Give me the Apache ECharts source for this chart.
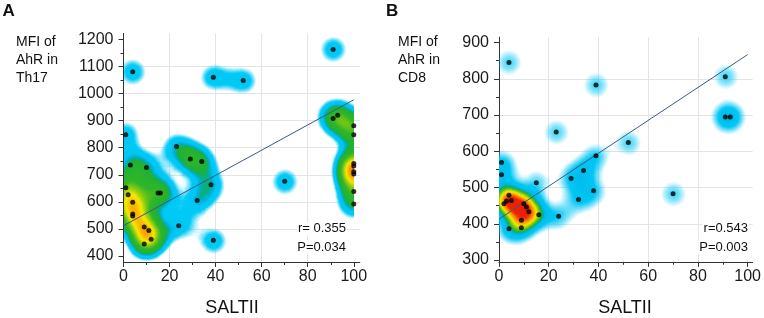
<!DOCTYPE html>
<html>
<head>
<meta charset="utf-8">
<script src="https://cdn.jsdelivr.net/npm/echarts@6/dist/echarts.min.js"></script>
<style>
  html, body { margin: 0; padding: 0; background: #fff; }
  #chart { width: 764px; height: 318px; }
</style>
</head>
<body>
<div id="chart"></div>
<script>
// panel A : MFI of AhR in Th17 vs SALTII
const saltA = [1, 4, 39, 52, 91, 91, 93, 100, 100, 100, 100, 100, 100, 100, 100, 23, 29, 34,
  3, 10, 1, 2, 4, 4, 4, 15, 16, 38, 70, 32, 24, 9, 11, 12, 9, 39];
const mfiA = [848, 1080, 1060, 1048, 1163, 908, 920, 848, 881, 742, 732, 711, 703, 638, 592, 804, 758, 749,
  736, 727, 652, 626, 599, 555, 548, 633, 633, 663, 676, 605, 512, 507, 494, 462, 444, 458];
const fitA = [[0, 512], [100, 977]];
const statsA = ['r= 0.355', 'P=0.034'];
const yTicksA = [400, 500, 600, 700, 800, 900, 1000, 1100, 1200];
const yRangeA = [378, 1222];

// panel B : MFI of AhR in CD8 vs SALTII
const saltB = [4, 39, 91, 91, 93, 23, 52, 39, 1, 1, 34, 29, 15, 38, 70, 32,
  4, 3, 5, 2, 10, 11, 12, 16, 24, 9, 9, 4];
const mfiB = [845, 783, 806, 695, 695, 653, 624, 588, 569, 535, 547, 525, 513, 491, 483, 467,
  479, 463, 464, 455, 455, 446, 433, 425, 421, 410, 389, 386];
const fitB = [[0, 413], [100, 867]];
const statsB = ['r=0.543', 'P=0.003'];
const yTicksB = [300, 400, 500, 600, 700, 800, 900];
const yRangeB = [295, 915];

const xTicks = [0, 20, 40, 60, 80, 100];
const xRangeA = [0, 102.6];
const xRangeB = [0, 102];

const FONT = '"Liberation Sans", Arial, sans-serif';

// density colour ramps (position = accumulated heat alpha)
const stopsA = [
  [0.00, [0, 205, 248]], [0.30, [0, 200, 244]], [0.33, [0, 178, 228]], [0.355, [0, 176, 150]],
  [0.38, [30, 176, 55]], [0.50, [50, 182, 40]], [0.58, [150, 207, 15]], [0.635, [248, 235, 0]],
  [0.70, [250, 150, 0]], [0.75, [238, 35, 0]], [1.00, [220, 0, 0]]
];
const stopsB = [
  [0.00, [0, 205, 248]], [0.30, [0, 195, 242]], [0.345, [0, 182, 232]], [0.37, [0, 178, 160]],
  [0.395, [30, 176, 55]], [0.445, [120, 200, 20]], [0.495, [248, 235, 0]], [0.55, [250, 150, 0]],
  [0.60, [238, 35, 0]], [1.00, [220, 0, 0]]
];
function rampColors(stops, n) {
  const out = [];
  for (let i = 0; i < n; i++) {
    const t = i / (n - 1);
    let j = 0;
    while (j < stops.length - 2 && t > stops[j + 1][0]) j++;
    const a = stops[j], b = stops[j + 1];
    const f = Math.min(1, Math.max(0, (t - a[0]) / (b[0] - a[0])));
    out.push('rgb(' + a[1].map((v, k) => Math.round(v + (b[1][k] - v) * f)).join(',') + ')');
  }
  return out;
}

// plain rectangles used as "maps" so the heat layer can sit on the plot area
function boxMap(yr) {
  return {
    type: 'FeatureCollection',
    features: [{
      type: 'Feature', properties: { name: 'box' },
      geometry: { type: 'Polygon', coordinates: [[[0, yr[0]], [100, yr[0]], [100, yr[1]], [0, yr[1]], [0, yr[0]]]] }
    }]
  };
}
echarts.registerMap('boxA', boxMap(yRangeA));
echarts.registerMap('boxB', boxMap(yRangeB));

const chart = echarts.init(document.getElementById('chart'), null, { renderer: 'canvas' });

const tickLabel = { fontSize: 16, fontFamily: FONT, color: '#1a1a1a', formatter: v => String(v) };

function xAxisOf(gi, range) {
  return {
    type: 'value', gridIndex: gi, min: range[0], max: range[1],
    interval: xTicks[1] - xTicks[0],
    axisLine: { show: true, lineStyle: { color: '#333', width: 1 } },
    axisTick: { show: true, length: 5, customValues: xTicks, lineStyle: { color: '#333' } },
    minorTick: { show: true, splitNumber: 2, length: 3, lineStyle: { color: '#333' } },
    axisLabel: Object.assign({ customValues: xTicks, margin: 7 }, tickLabel),
    splitLine: { show: true, showMinLine: false, showMaxLine: false, lineStyle: { color: '#e4e4e4', width: 1 } }
  };
}
function yAxisOf(gi, range, ticks) {
  const step = ticks[1] - ticks[0];
  return {
    type: 'value', gridIndex: gi, min: range[0], max: range[1],
    minInterval: step, maxInterval: step,
    axisLine: { show: true, lineStyle: { color: '#333', width: 1 } },
    axisTick: { show: true, length: 5, customValues: ticks, lineStyle: { color: '#333' } },
    minorTick: { show: true, splitNumber: 2, length: 3, lineStyle: { color: '#333' } },
    axisLabel: Object.assign({ customValues: ticks, margin: 10 }, tickLabel),
    splitLine: { show: true, showMinLine: false, showMaxLine: false, lineStyle: { color: '#e4e4e4', width: 1 } }
  };
}
function geoOf(name) {
  return {
    map: name, roam: false, silent: true, left: 0, top: 0, width: 10, height: 10,
    itemStyle: { areaColor: 'rgba(0,0,0,0)', borderColor: 'rgba(0,0,0,0)', borderWidth: 0 },
    emphasis: { disabled: true }, select: { disabled: true }, label: { show: false }
  };
}
function heatSeries(gi, xs, ys, ptSize, blur, minOp, maxOp) {
  return {
    type: 'heatmap', coordinateSystem: 'geo', geoIndex: gi,
    data: xs.map((x, i) => [x, ys[i], 1]),
    pointSize: ptSize, blurSize: blur, minOpacity: minOp, maxOpacity: maxOp,
    silent: true, z: 1
  };
}
function text(x, y, str, font, align) {
  return {
    type: 'text', x: x, y: y, silent: true, z: 20,
    style: { text: str, font: font, fill: '#111', align: align || 'left', verticalAlign: 'middle' }
  };
}
function statText(x, y, str) {
  const t = text(x, y, str, '13px ' + FONT, 'right');
  t.style.backgroundColor = '#fff';
  t.style.padding = [0, 1];
  return t;
}

const labelsA = ['MFI of', 'AhR in', 'Th17'];
const labelsB = ['MFI of', 'AhR in', 'CD8'];

chart.setOption({
  animation: false,
  grid: [
    { left: 123.5, top: 33.4, width: 236.3, height: 228.6 },
    { left: 499, top: 37.2, width: 254.7, height: 224.6 }
  ],
  xAxis: [xAxisOf(0, xRangeA), xAxisOf(1, xRangeB)],
  yAxis: [yAxisOf(0, yRangeA, yTicksA), yAxisOf(1, yRangeB, yTicksB)],
  geo: [geoOf('boxA'), geoOf('boxB')],
  visualMap: [
    { type: 'continuous', show: false, seriesIndex: 0, min: 0, max: 1.6, inRange: { color: rampColors(stopsA, 128) } },
    { type: 'continuous', show: false, seriesIndex: 1, min: 0, max: 3.0, inRange: { color: rampColors(stopsB, 128) } }
  ],
  series: [
    heatSeries(0, saltA, mfiA, 12, 22, -2.43, 11.9),
    heatSeries(1, saltB, mfiB, 12, 18, -0.75, 6.36),
    { type: 'line', xAxisIndex: 0, yAxisIndex: 0, data: fitA, symbol: 'none', silent: true, z: 3,
      lineStyle: { color: '#3a5a8a', width: 1 } },
    { type: 'line', xAxisIndex: 1, yAxisIndex: 1, data: fitB, symbol: 'none', silent: true, z: 3,
      lineStyle: { color: '#3a5a8a', width: 1 } },
    { type: 'scatter', xAxisIndex: 0, yAxisIndex: 0, data: saltA.map((x, i) => [x, mfiA[i]]),
      symbolSize: 5, itemStyle: { color: '#000' }, silent: true, z: 4 },
    { type: 'scatter', xAxisIndex: 1, yAxisIndex: 1, data: saltB.map((x, i) => [x, mfiB[i]]),
      symbolSize: 5, itemStyle: { color: '#000' }, silent: true, z: 4 }
  ],
  graphic: [
    text(2.5, 11.5, 'A', 'bold 17px ' + FONT),
    text(386, 11.5, 'B', 'bold 17px ' + FONT),
    text(16, 42, labelsA[0], '14px ' + FONT), text(16, 60, labelsA[1], '14px ' + FONT), text(16, 78.3, labelsA[2], '14px ' + FONT),
    text(398, 42, labelsB[0], '14px ' + FONT), text(398, 60, labelsB[1], '14px ' + FONT), text(398, 78.3, labelsB[2], '14px ' + FONT),
    statText(347, 228.7, statsA[0]), statText(347, 247, statsA[1]),
    statText(749, 228.7, statsB[0]), statText(749, 247.3, statsB[1]),
    text(232, 308.3, 'SALTII', '18px ' + FONT, 'center'),
    text(625, 308.3, 'SALTII', '18px ' + FONT, 'center')
  ]
});

// put the heat layer exactly over x 0..100 of each plot
function heatBox(gi, yr) {
  const tl = chart.convertToPixel({ gridIndex: gi }, [0, yr[1]]);
  const br = chart.convertToPixel({ gridIndex: gi }, [100, yr[0]]);
  return { left: tl[0], top: tl[1], width: br[0] - tl[0], height: br[1] - tl[1] };
}
chart.setOption({ geo: [heatBox(0, yRangeA), heatBox(1, yRangeB)] });
</script>
</body>
</html>
